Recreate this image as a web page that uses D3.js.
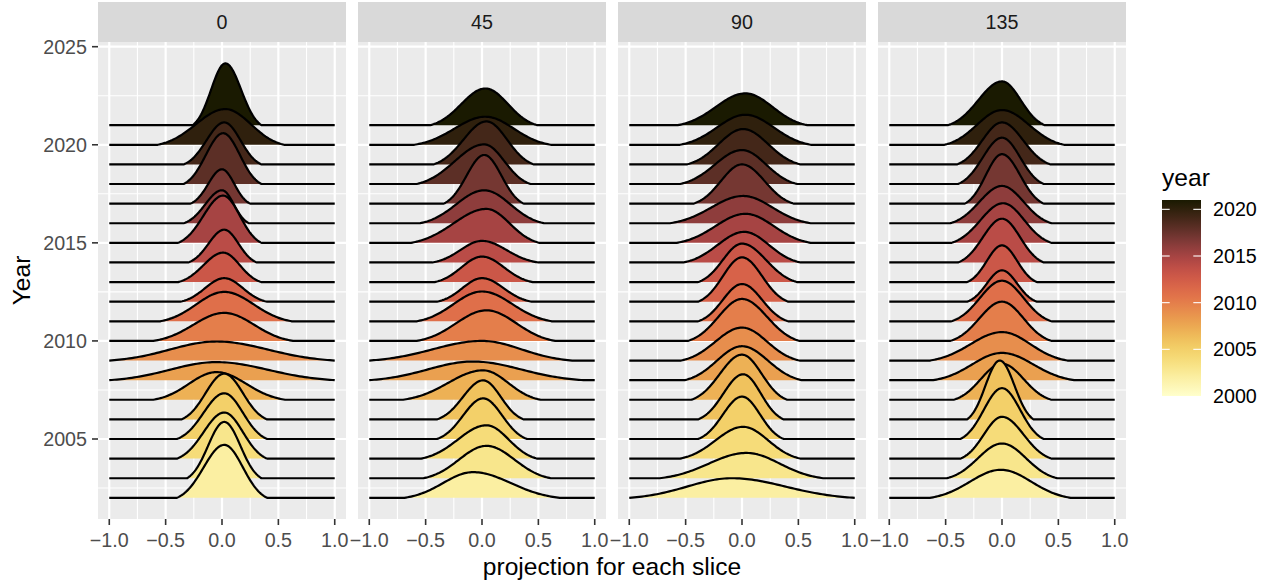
<!DOCTYPE html>
<html>
<head>
<meta charset="utf-8">
<script src="https://cdn.jsdelivr.net/npm/d3@7/dist/d3.min.js"></script>
<style>
  body { margin: 0; background: #fff; }
  svg { display: block; }
  text { font-family: "Liberation Sans", Arial, Helvetica, sans-serif; }
</style>
</head>
<body>
<svg id="chart" width="1271" height="584"></svg>
<script>
// facets (slice angle) and ridge years
var angles = ["0", "45", "90", "135"];
var years = [2002, 2003, 2004, 2005, 2006, 2007, 2008, 2009, 2010, 2011,
             2012, 2013, 2014, 2015, 2016, 2017, 2018, 2019, 2020, 2021];

// one row per year (2002 -> 2021): [mode, left end, right end, peak height in years]
var ridges0 = [
  [0.02, -0.40, 0.40, 2.70], [0.02, -0.31, 0.35, 2.87], [0.02, -0.40, 0.40, 2.35],
  [0.02, -0.40, 0.40, 2.33], [0.02, -0.36, 0.40, 2.33], [-0.05, -0.61, 0.56, 1.41],
  [-0.05, -1.00, 1.00, 0.92], [-0.05, -1.00, 1.00, 0.97], [0.02, -0.61, 0.63, 1.43],
  [0.02, -0.55, 0.62, 1.50], [0.02, -0.37, 0.40, 1.20], [0.01, -0.39, 0.35, 1.50],
  [0.02, -0.30, 0.31, 1.67], [0.01, -0.39, 0.35, 2.41], [0.00, -0.34, 0.24, 1.68],
  [0.00, -0.28, 0.25, 1.75], [0.01, -0.34, 0.35, 2.59], [0.02, -0.34, 0.35, 2.14],
  [0.03, -0.57, 0.55, 1.82], [0.03, -0.26, 0.35, 3.15]
];
var ridges45 = [
  [-0.08, -0.69, 0.69, 1.31], [0.04, -0.52, 0.61, 1.65], [0.04, -0.54, 0.49, 1.70],
  [0.01, -0.40, 0.40, 2.07], [0.01, -0.40, 0.37, 1.99], [0.01, -0.70, 0.52, 1.50],
  [-0.08, -1.00, 0.90, 0.95], [0.00, -1.00, 0.80, 1.00], [0.04, -0.58, 0.65, 1.56],
  [0.00, -0.58, 0.62, 1.52], [0.00, -0.40, 0.44, 1.20], [0.00, -0.42, 0.45, 1.30],
  [0.00, -0.44, 0.50, 1.10], [0.04, -0.63, 0.51, 1.73], [0.02, -0.55, 0.55, 1.68],
  [0.02, -0.34, 0.37, 2.48], [0.02, -0.58, 0.43, 2.02], [0.04, -0.43, 0.46, 2.19],
  [0.03, -0.60, 0.61, 1.43], [0.03, -0.46, 0.49, 1.87]
];
var ridges90 = [
  [-0.09, -1.00, 1.00, 1.00], [0.04, -0.73, 0.72, 1.29], [0.01, -0.55, 0.52, 1.62],
  [0.00, -0.39, 0.37, 2.16], [0.01, -0.39, 0.37, 2.30], [0.00, -0.45, 0.40, 2.30],
  [0.00, -0.51, 0.53, 1.73], [0.00, -0.54, 0.51, 1.68], [0.00, -0.48, 0.51, 2.14],
  [0.00, -0.39, 0.41, 1.90], [0.00, -0.39, 0.41, 2.26], [0.00, -0.39, 0.49, 1.96],
  [0.02, -0.52, 0.52, 1.56], [0.03, -0.58, 0.61, 1.48], [0.01, -0.64, 0.61, 1.39],
  [0.00, -0.43, 0.46, 2.00], [0.00, -0.55, 0.49, 1.73], [0.01, -0.49, 0.52, 1.80],
  [0.03, -0.55, 0.61, 1.53], [0.03, -0.57, 0.58, 1.62]
];
var ridges135 = [
  [-0.01, -0.64, 0.61, 1.43], [0.00, -0.49, 0.49, 1.77], [0.00, -0.37, 0.44, 2.13],
  [0.00, -0.37, 0.37, 2.59], [-0.02, -0.31, 0.28, 3.00], [0.00, -0.43, 0.44, 1.84],
  [0.00, -0.61, 0.64, 1.39], [0.00, -0.64, 0.58, 1.45], [0.00, -0.46, 0.44, 2.00],
  [0.00, -0.45, 0.44, 2.07], [0.00, -0.31, 0.31, 1.60], [0.00, -0.31, 0.31, 1.87],
  [0.00, -0.39, 0.37, 2.23], [0.01, -0.45, 0.44, 2.02], [0.00, -0.46, 0.44, 1.90],
  [0.00, -0.33, 0.37, 2.52], [0.00, -0.39, 0.37, 2.36], [0.00, -0.40, 0.43, 2.14],
  [0.00, -0.51, 0.55, 1.77], [0.00, -0.48, 0.38, 2.23]
];
var ridgesByAngle = [ridges0, ridges45, ridges90, ridges135];

var xTicks = [-1, -0.5, 0, 0.5, 1];
var xMinor = [-0.75, -0.25, 0.25, 0.75];
var yTicks = [2005, 2010, 2015, 2020, 2025];
var yMinor = [2002.5, 2007.5, 2012.5, 2017.5, 2022.5];
var legendTicks = [2000, 2005, 2010, 2015, 2020];

// scico "lajolla" anchors, light -> dark
var lajolla = ["#ffffcc", "#fbeea0", "#f5db72", "#efbf58", "#e9984d", "#e3754a",
               "#d45a48", "#af4547", "#7a3937", "#452719", "#1a1a01"];

var svg = d3.select("#chart");
var panelTop = 42, panelBottom = 519, panelW = 248, panelGap = 12, firstLeft = 98;

var y = d3.scaleLinear().domain([2005, 2025]).range([439, 46.7]);
var color = d3.scaleSequential([2000, 2021], d3.interpolateRgbBasis(lajolla));
var minus = function (v) { return d3.format(".1f")(v).replace("-", "\u2212"); };

// truncated, split-normal ridge shape between the two ends
var cut = 2.3, e0 = Math.exp(-cut * cut / 2);
function ridgePoints(r) {
  var m = r[0], lo = r[1], hi = r[2], h = r[3], pts = [], n = 90;
  for (var i = 0; i <= n; i++) {
    var xv = lo + (hi - lo) * i / n;
    var sd = xv < m ? (m - lo) / cut : (hi - m) / cut;
    var z = (xv - m) / sd;
    var v = (Math.exp(-z * z / 2) - e0) / (1 - e0);
    pts.push([xv, Math.max(0, v) * h]);
  }
  return pts;
}

angles.forEach(function (angle, k) {
  var left = firstLeft + k * (panelW + panelGap);
  var x = d3.scaleLinear().domain([-1.1, 1.1]).range([left, left + panelW]);
  var g = svg.append("g");

  g.append("clipPath").attr("id", "clip" + k)
    .append("rect").attr("x", left).attr("y", panelTop)
    .attr("width", panelW).attr("height", panelBottom - panelTop);

  g.append("rect").attr("x", left).attr("y", panelTop)
    .attr("width", panelW).attr("height", panelBottom - panelTop).attr("fill", "#ebebeb");

  var grid = g.append("g").attr("clip-path", "url(#clip" + k + ")");
  grid.selectAll(".ymin").data(yMinor).enter().append("line")
    .attr("x1", left).attr("x2", left + panelW)
    .attr("y1", function (d) { return y(d); }).attr("y2", function (d) { return y(d); })
    .attr("stroke", "#fff").attr("stroke-width", 1.1);
  grid.selectAll(".xmin").data(xMinor).enter().append("line")
    .attr("y1", panelTop).attr("y2", panelBottom)
    .attr("x1", function (d) { return x(d); }).attr("x2", function (d) { return x(d); })
    .attr("stroke", "#fff").attr("stroke-width", 1.1);
  grid.selectAll(".ymaj").data(yTicks).enter().append("line")
    .attr("x1", left).attr("x2", left + panelW)
    .attr("y1", function (d) { return y(d); }).attr("y2", function (d) { return y(d); })
    .attr("stroke", "#fff").attr("stroke-width", 2.2);
  grid.selectAll(".xmaj").data(xTicks).enter().append("line")
    .attr("y1", panelTop).attr("y2", panelBottom)
    .attr("x1", function (d) { return x(d); }).attr("x2", function (d) { return x(d); })
    .attr("stroke", "#fff").attr("stroke-width", 2.2);

  // ridges, top year first so lower ridges overlap the ones above
  var rows = ridgesByAngle[k].map(function (r, i) { return { year: years[i], r: r }; }).reverse();
  var ridgeG = g.append("g").attr("clip-path", "url(#clip" + k + ")");
  rows.forEach(function (row) {
    var pts = ridgePoints(row.r);
    var area = d3.area()
      .x(function (d) { return x(d[0]); })
      .y0(y(row.year))
      .y1(function (d) { return y(row.year + d[1]); });
    var line = d3.line()
      .x(function (d) { return x(d[0]); })
      .y(function (d) { return y(row.year + d[1]); });
    ridgeG.append("path").attr("d", area(pts)).attr("fill", color(row.year));
    ridgeG.append("path").attr("d", line([[-1, 0]].concat(pts, [[1, 0]])))
      .attr("fill", "none").attr("stroke", "#000").attr("stroke-width", 2.2)
      .attr("stroke-linejoin", "round");
  });

  // strip
  g.append("rect").attr("x", left).attr("y", 2).attr("width", panelW)
    .attr("height", panelTop - 2).attr("fill", "#d9d9d9");
  g.append("text").attr("x", left + panelW / 2).attr("y", 29)
    .attr("text-anchor", "middle").attr("font-size", 19.7).attr("fill", "#1a1a1a")
    .text(angle);

  // x axis
  var ax = g.append("g");
  ax.selectAll("line").data(xTicks).enter().append("line")
    .attr("x1", function (d) { return x(d); }).attr("x2", function (d) { return x(d); })
    .attr("y1", panelBottom).attr("y2", panelBottom + 6)
    .attr("stroke", "#333").attr("stroke-width", 1.6);
  ax.selectAll("text").data(xTicks).enter().append("text")
    .attr("x", function (d) { return x(d); }).attr("y", 547)
    .attr("text-anchor", "middle").attr("font-size", 19.7).attr("fill", "#4d4d4d")
    .text(minus);
});

// y axis
var ay = svg.append("g");
ay.selectAll("line").data(yTicks).enter().append("line")
  .attr("x1", firstLeft - 6).attr("x2", firstLeft)
  .attr("y1", function (d) { return y(d); }).attr("y2", function (d) { return y(d); })
  .attr("stroke", "#333").attr("stroke-width", 1.6);
ay.selectAll("text").data(yTicks).enter().append("text")
  .attr("x", 87).attr("y", function (d) { return y(d) + 7; })
  .attr("text-anchor", "end").attr("font-size", 19.7).attr("fill", "#4d4d4d")
  .text(function (d) { return d; });

// axis titles
var lastRight = firstLeft + 3 * (panelW + panelGap) + panelW;
svg.append("text").attr("x", (firstLeft + lastRight) / 2).attr("y", 575)
  .attr("text-anchor", "middle").attr("font-size", 24.6).attr("fill", "#000")
  .text("projection for each slice");
svg.append("text").attr("transform", "translate(30," + (panelTop + panelBottom) / 2 + ") rotate(-90)")
  .attr("text-anchor", "middle").attr("font-size", 24.6).attr("fill", "#000")
  .text("Year");

// colour bar legend
var legX = 1162, legW = 39, legTop = 200, legBottom = 396;
var ly = d3.scaleLinear().domain([2000, 2021]).range([legBottom, legTop]);
var defs = svg.append("defs");
var grad = defs.append("linearGradient").attr("id", "yearGrad")
  .attr("x1", 0).attr("y1", 1).attr("x2", 0).attr("y2", 0);
d3.range(0, 1.0001, 0.05).forEach(function (t) {
  grad.append("stop").attr("offset", t).attr("stop-color", color(2000 + 21 * t));
});
svg.append("text").attr("x", legX).attr("y", 186).attr("font-size", 24.6)
  .attr("fill", "#000").text("year");
svg.append("rect").attr("x", legX).attr("y", legTop).attr("width", legW)
  .attr("height", legBottom - legTop).attr("fill", "url(#yearGrad)");
var lt = svg.append("g");
legendTicks.filter(function (d) { return d > 2000; }).forEach(function (d) {
  lt.append("line").attr("x1", legX).attr("x2", legX + 7.7)
    .attr("y1", ly(d)).attr("y2", ly(d)).attr("stroke", "#fff").attr("stroke-width", 1.1);
  lt.append("line").attr("x1", legX + legW - 7.7).attr("x2", legX + legW)
    .attr("y1", ly(d)).attr("y2", ly(d)).attr("stroke", "#fff").attr("stroke-width", 1.1);
});
lt.selectAll("text").data(legendTicks).enter().append("text")
  .attr("x", 1213).attr("y", function (d) { return ly(d) + 7; })
  .attr("font-size", 19.7).attr("fill", "#000")
  .text(function (d) { return d; });
</script>
</body>
</html>
